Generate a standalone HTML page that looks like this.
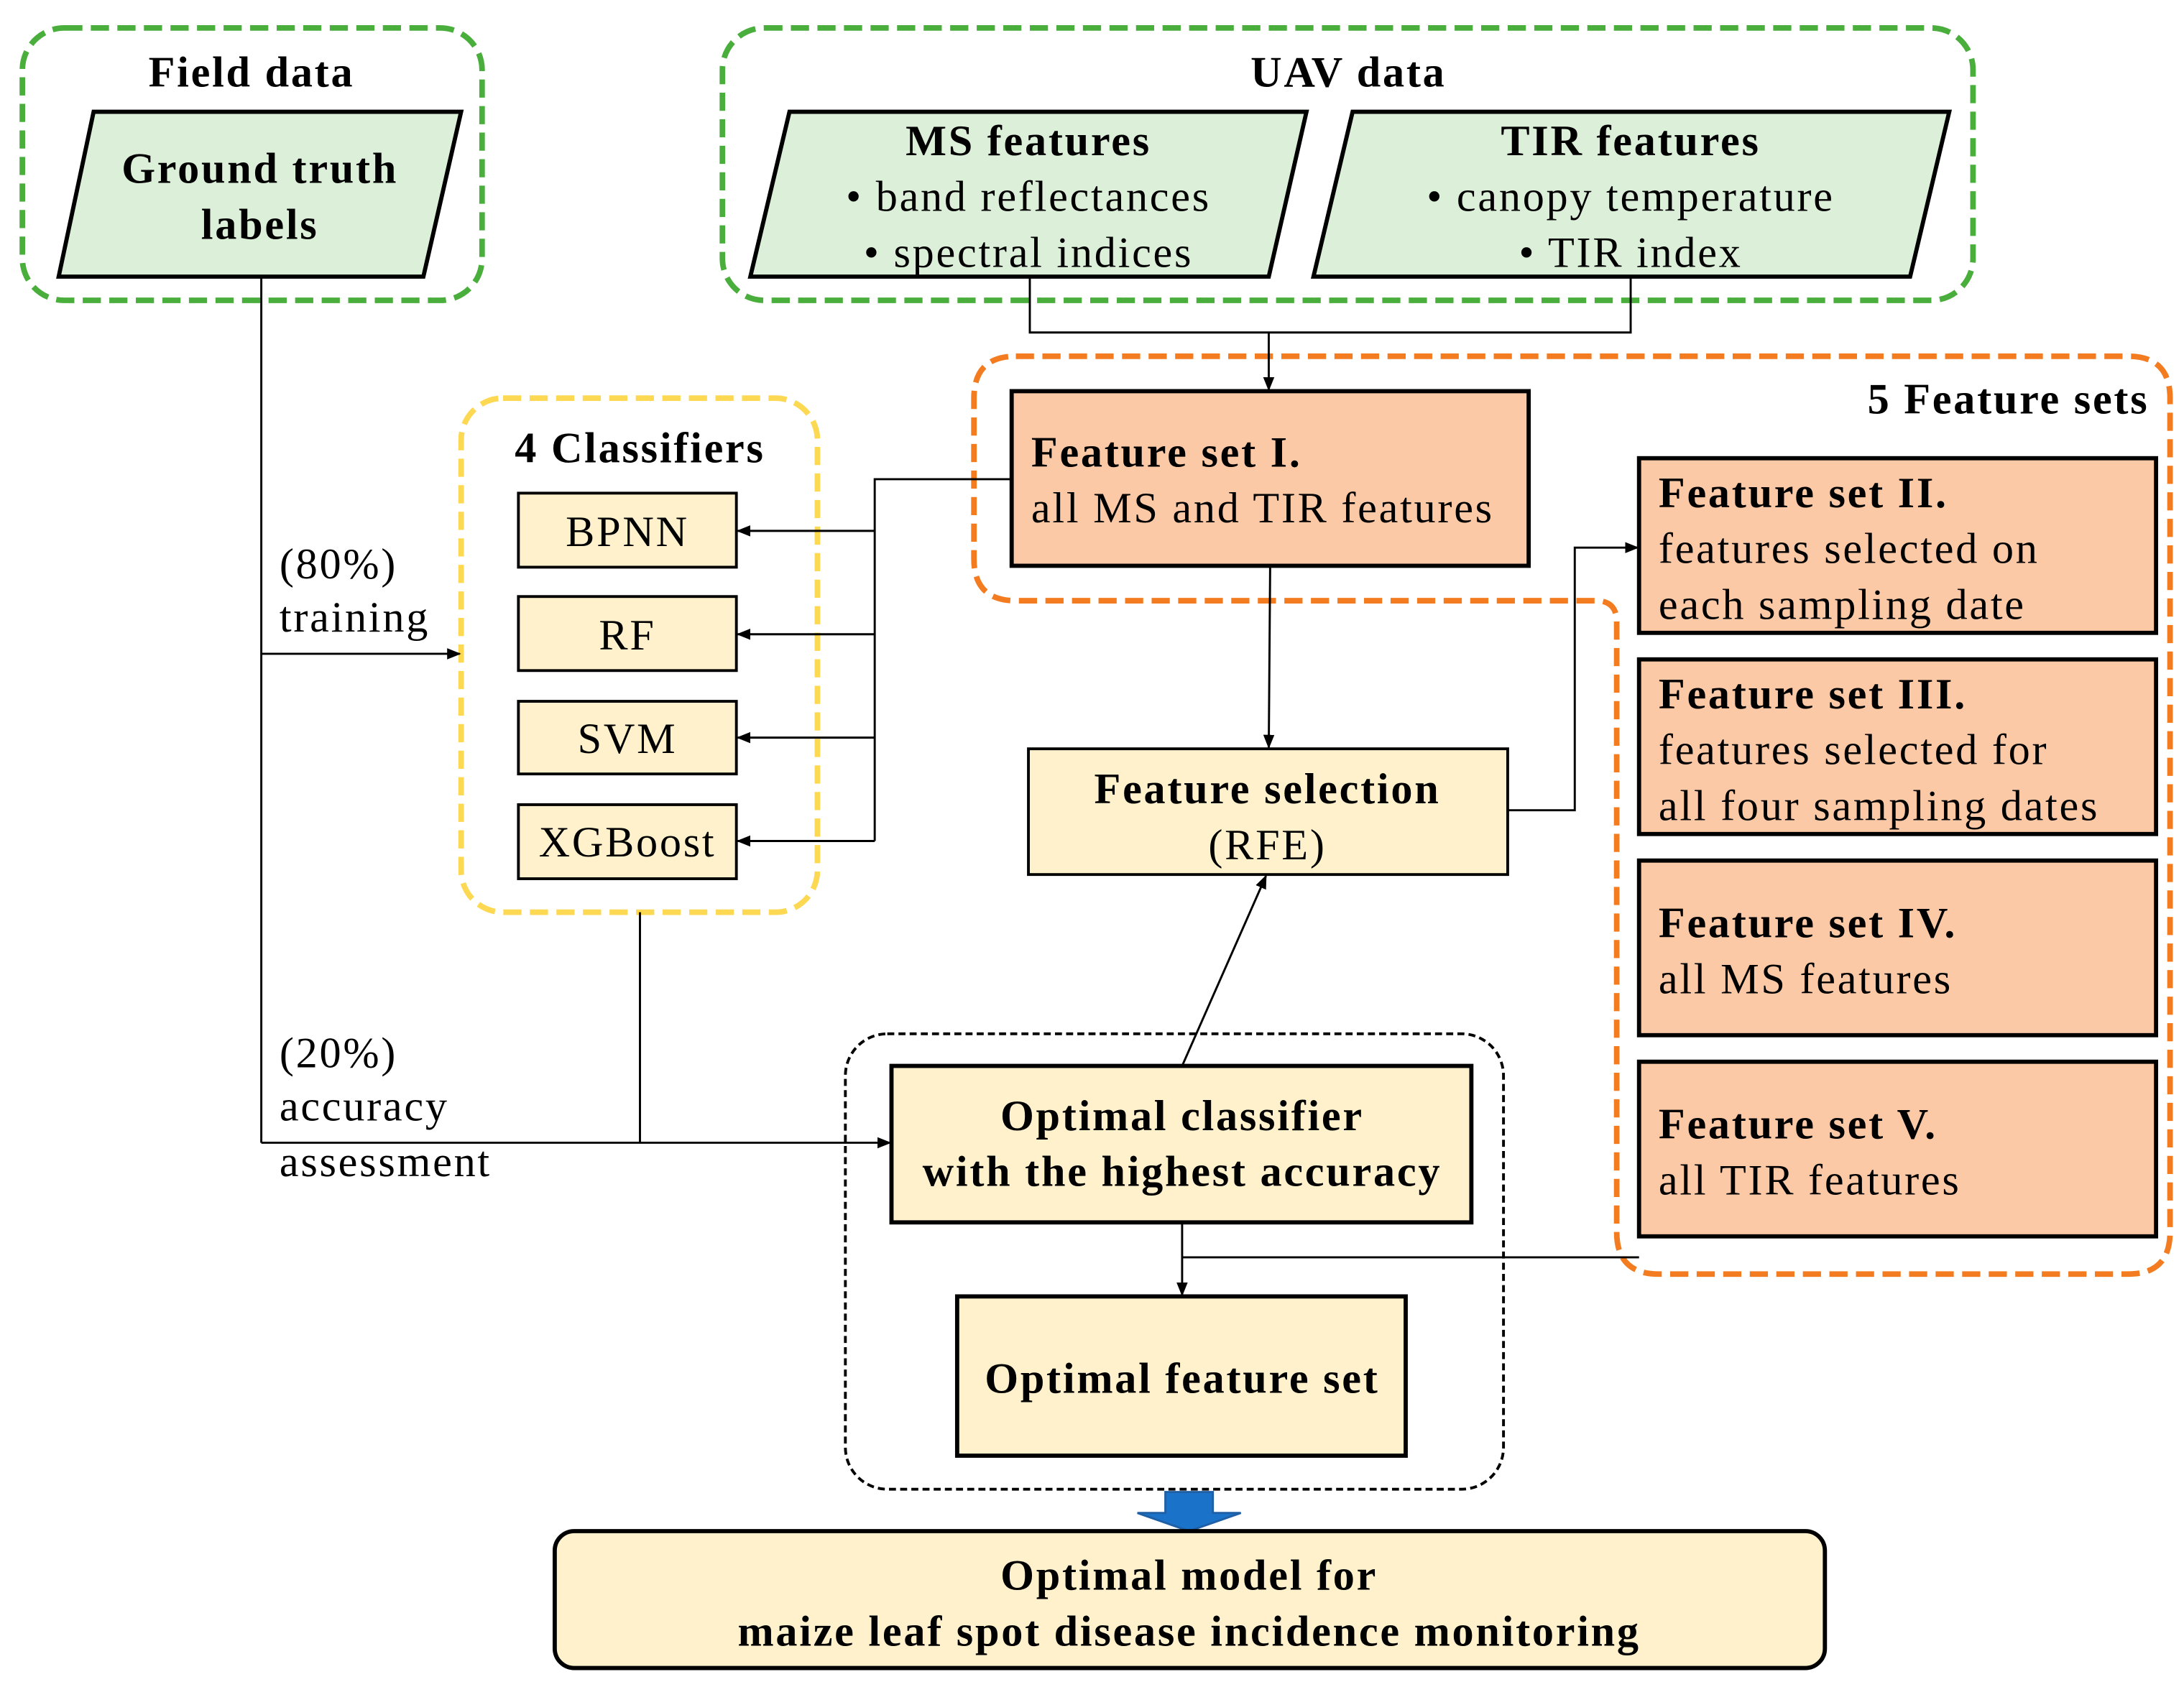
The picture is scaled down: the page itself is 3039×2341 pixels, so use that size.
<!DOCTYPE html>
<html><head><meta charset="utf-8"><style>html,body{margin:0;padding:0;background:#fff}svg{display:block}text{letter-spacing:1.4px}</style></head>
<body>
<svg width="3039" height="2341" viewBox="0 0 1563 1204" xmlns="http://www.w3.org/2000/svg" font-family="'Liberation Serif', serif" font-size="31">
<defs>
<marker id="a" markerWidth="10" markerHeight="10" refX="9" refY="5" orient="auto" markerUnits="userSpaceOnUse"><path d="M0,1 L10,5 L0,9 Z" fill="#000"/></marker>
</defs>
<rect width="1563" height="1204" fill="#fff"/>
<rect x="16" y="20" width="329" height="195" rx="30" fill="none" stroke="#4aae3c" stroke-width="4" stroke-dasharray="13 6"/>
<rect x="517" y="20" width="895" height="195" rx="30" fill="none" stroke="#4aae3c" stroke-width="4" stroke-dasharray="13 6"/>
<rect x="330" y="285" width="255" height="368" rx="30" fill="none" stroke="#fdd853" stroke-width="4" stroke-dasharray="13 6"/>
<path d="M727,255 H1523 Q1553,255 1553,285 V882 Q1553,912 1523,912 H1187 Q1157,912 1157,882 V445 Q1157,430 1142,430 H727 Q697,430 697,400 V285 Q697,255 727,255 Z" fill="none" stroke="#f47c20" stroke-width="4" stroke-dasharray="13 6"/>
<rect x="605" y="740" width="471" height="326" rx="30" fill="none" stroke="#000" stroke-width="2" stroke-dasharray="5 3"/>

<g font-weight="bold" text-anchor="middle">
<text x="180" y="62">Field data</text>
<text x="965" y="62">UAV data</text>
<text x="458" y="331">4 Classifiers</text>
<text x="1538" y="296" text-anchor="end">5 Feature sets</text>
</g>

<polygon points="67,80 330,80 303,198 42,198" fill="#dcefd9" stroke="#000" stroke-width="3"/>
<polygon points="565,80 935,80 908,198 537,198" fill="#dcefd9" stroke="#000" stroke-width="3"/>
<polygon points="968,80 1395,80 1367,198 940,198" fill="#dcefd9" stroke="#000" stroke-width="3"/>
<g text-anchor="middle">
<text x="186" y="131" font-weight="bold">Ground truth</text>
<text x="186" y="171" font-weight="bold">labels</text>
<text x="736" y="111" font-weight="bold">MS features</text>
<text x="736" y="151">•   band reflectances</text>
<text x="736" y="191">•   spectral indices</text>
<text x="1167" y="111" font-weight="bold">TIR features</text>
<text x="1167" y="151">•   canopy temperature</text>
<text x="1167" y="191">•   TIR index</text>
</g>

<g stroke="#000" stroke-width="1.5" fill="none">
<polyline points="737,198 737,238 1167,238 1167,198"/>
<line x1="908" y1="238" x2="908" y2="279" marker-end="url(#a)"/>
<line x1="187" y1="198" x2="187" y2="818"/>
<line x1="187" y1="468" x2="329" y2="468" marker-end="url(#a)"/>
<line x1="187" y1="818" x2="637" y2="818" marker-end="url(#a)"/>
<line x1="458" y1="653" x2="458" y2="818"/>
<polyline points="724,343 626,343 626,602"/>
<line x1="626" y1="380" x2="528" y2="380" marker-end="url(#a)"/>
<line x1="626" y1="454" x2="528" y2="454" marker-end="url(#a)"/>
<line x1="626" y1="528" x2="528" y2="528" marker-end="url(#a)"/>
<line x1="626" y1="602" x2="528" y2="602" marker-end="url(#a)"/>
<line x1="909" y1="405" x2="908" y2="535" marker-end="url(#a)"/>
<polyline points="1079,580 1127,580 1127,392 1172,392" marker-end="url(#a)"/>
<line x1="846" y1="763" x2="906" y2="627" marker-end="url(#a)"/>
<line x1="846" y1="875" x2="846" y2="927" marker-end="url(#a)"/>
<line x1="846" y1="900" x2="1173" y2="900"/>
</g>

<g fill="#fcc9a6" stroke="#000" stroke-width="3">
<rect x="724" y="280" width="370" height="125"/>
<rect x="1173" y="328" width="370" height="125"/>
<rect x="1173" y="472" width="370" height="125"/>
<rect x="1173" y="616" width="370" height="125"/>
<rect x="1173" y="760" width="370" height="125"/>
</g>
<text x="738" y="334" font-weight="bold">Feature set I.</text>
<text x="738" y="374">all MS and TIR features</text>
<text x="1187" y="363" font-weight="bold">Feature set II.</text>
<text x="1187" y="403">features selected on</text>
<text x="1187" y="443">each sampling date</text>
<text x="1187" y="507" font-weight="bold">Feature set III.</text>
<text x="1187" y="547">features selected for</text>
<text x="1187" y="587">all four sampling dates</text>
<text x="1187" y="671" font-weight="bold">Feature set IV.</text>
<text x="1187" y="711">all MS features</text>
<text x="1187" y="815" font-weight="bold">Feature set V.</text>
<text x="1187" y="855">all TIR features</text>

<g fill="#fff1cc" stroke="#000" stroke-width="2">
<rect x="371" y="353" width="156" height="53"/>
<rect x="371" y="427" width="156" height="53"/>
<rect x="371" y="502" width="156" height="52"/>
<rect x="371" y="576" width="156" height="53"/>
</g>
<g text-anchor="middle">
<text x="449" y="391">BPNN</text>
<text x="449" y="465">RF</text>
<text x="449" y="539">SVM</text>
<text x="449" y="613">XGBoost</text>
</g>

<text x="200" y="414">(80%)</text>
<text x="200" y="452">training</text>
<text x="200" y="764">(20%)</text>
<text x="200" y="802">accuracy</text>
<text x="200" y="842">assessment</text>

<rect x="736" y="536" width="343" height="90" fill="#fff1cc" stroke="#000" stroke-width="2"/>
<text x="907" y="575" text-anchor="middle" font-weight="bold">Feature selection</text>
<text x="907" y="615" text-anchor="middle">(RFE)</text>
<rect x="638" y="763" width="415" height="112" fill="#fff1cc" stroke="#000" stroke-width="3"/>
<text x="846" y="809" text-anchor="middle" font-weight="bold">Optimal classifier</text>
<text x="846" y="849" text-anchor="middle" font-weight="bold">with the highest accuracy</text>
<rect x="685" y="928" width="321" height="114" fill="#fff1cc" stroke="#000" stroke-width="3"/>
<text x="846" y="997" text-anchor="middle" font-weight="bold">Optimal feature set</text>

<polygon points="834,1068 868,1068 868,1083 888,1083 851,1096 814,1083 834,1083" fill="#1a73c9" stroke="#1f5fa6" stroke-width="1.5"/>

<rect x="397" y="1096" width="909" height="98" rx="14" fill="#fff1cc" stroke="#000" stroke-width="3"/>
<text x="851" y="1138" text-anchor="middle" font-weight="bold">Optimal model for</text>
<text x="851" y="1178" text-anchor="middle" font-weight="bold">maize leaf spot disease incidence monitoring</text>
</svg>
</body></html>
